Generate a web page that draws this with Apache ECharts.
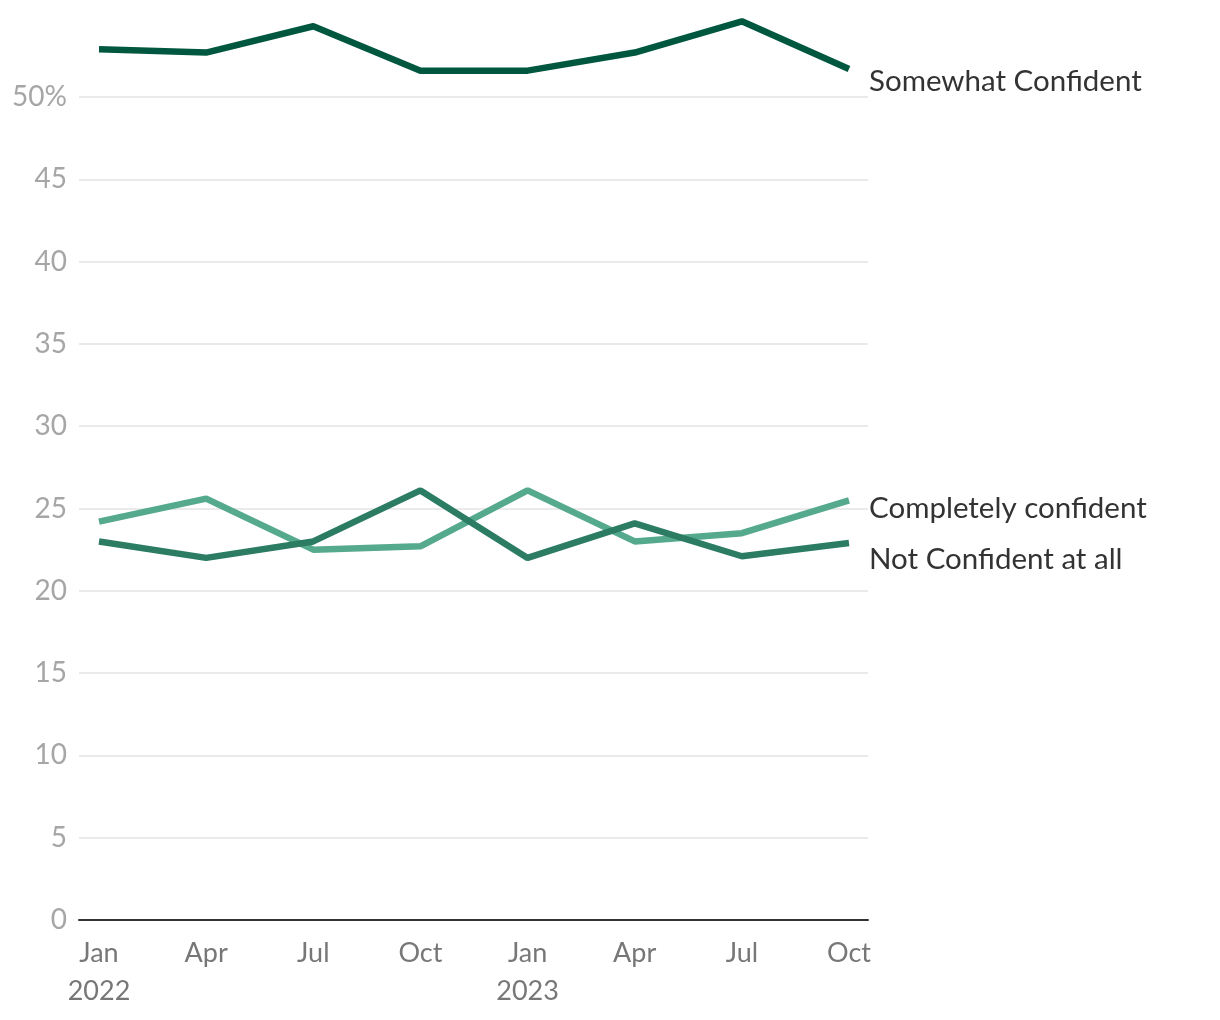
<!DOCTYPE html>
<html><head><meta charset="utf-8">
<script src="https://cdn.jsdelivr.net/npm/echarts@6/dist/echarts.min.js"></script>
<style>html,body{margin:0;padding:0;background:#fff}#c{width:1220px;height:1020px}</style>
</head><body><div id="c"></div>
<script>
const categories = ['Jan\n2022','Apr','Jul','Oct','Jan\n2023','Apr','Jul','Oct'];
const somewhatConfident = [52.9, 52.7, 54.3, 51.6, 51.6, 52.7, 54.6, 51.7];
const completelyConfident = [24.2, 25.6, 22.5, 22.7, 26.1, 23.0, 23.5, 25.5];
const notConfident = [23.0, 22.0, 23.0, 26.1, 22.0, 24.1, 22.1, 22.9];
const yTicks = [0,5,10,15,20,25,30,35,40,45,50];

const FONT = 'Lato';
const chart = echarts.init(document.getElementById('c'));
const bottom = 100, pxPerUnit = 16.46;
function mkSeries(name, data, color, offY) {
  return {
    type: 'line', name, data, xAxisIndex: 1, yAxisIndex: 1,
    symbol: 'none', lineStyle: { width: 6.5, color }, itemStyle: { color },
    endLabel: { show: true, formatter: '{a}', color: '#333', fontFamily: FONT, fontSize: 29.5, offset: [12, offY] },
    silent: true
  };
}
chart.setOption({
  animation: false,
  grid: [
    { left: 79, right: 1220 - 868, top: 920 - 50 * pxPerUnit, bottom },
    { left: 99, right: 1220 - 849, top: 920 - 55 * pxPerUnit, bottom }
  ],
  xAxis: [
    { type: 'category', gridIndex: 0, data: categories, boundaryGap: false,
      axisLine: { lineStyle: { color: '#333', width: 2 } }, axisTick: { show: false },
      axisLabel: { show: false }, splitLine: { show: false } },
    { type: 'category', gridIndex: 1, data: categories, boundaryGap: false,
      axisLine: { show: false }, axisTick: { show: false },
      axisLabel: { color: '#777', fontFamily: FONT, fontSize: 27, lineHeight: 38, margin: 14, interval: 0 } }
  ],
  yAxis: [
    { type: 'value', gridIndex: 0, min: 0, max: 50, interval: 5,
      axisLine: { show: false }, axisTick: { show: false },
      axisLabel: { color: '#a6a6a6', fontFamily: FONT, fontSize: 28, margin: 12,
        formatter: v => yTicks.includes(v) ? (v === 50 ? '50%' : String(v)) : '' },
      splitLine: { lineStyle: { color: '#e3e3e3', width: 1.5 } } },
    { type: 'value', gridIndex: 1, min: 0, max: 55, show: false, splitLine: { show: false } }
  ],
  series: [
    mkSeries('Somewhat Confident', somewhatConfident, '#00573f', 12),
    mkSeries('Completely confident', completelyConfident, '#55a98c', 8),
    mkSeries('Not Confident at all', notConfident, '#2b7c63', 16)
  ]
});
</script></body></html>
